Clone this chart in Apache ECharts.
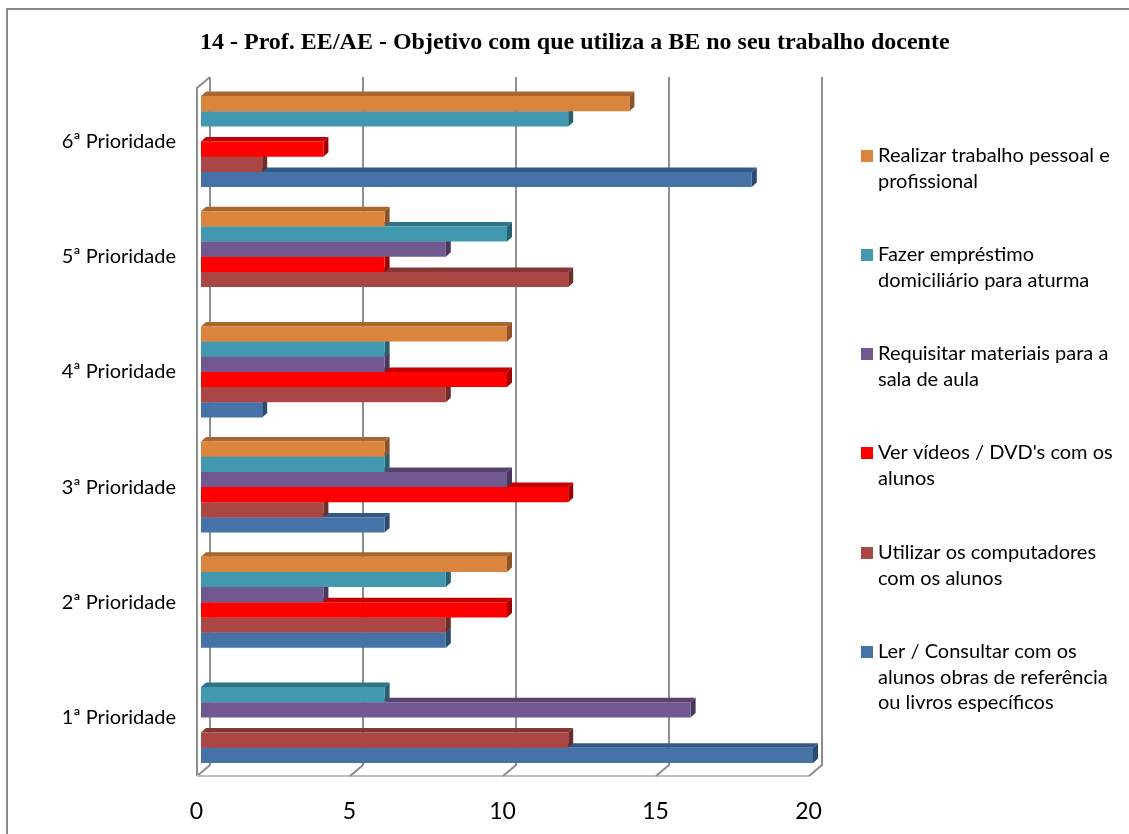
<!DOCTYPE html>
<html>
<head>
<meta charset="utf-8">
<script src="https://cdn.jsdelivr.net/npm/echarts@6/dist/echarts.min.js"></script>
<style>
  html, body { margin: 0; padding: 0; background: #ffffff; }
  #chart { width: 1129px; height: 834px; }
</style>
</head>
<body>
<div id="chart"></div>
<script>
// ---------- data ----------
const titleText = '14 - Prof. EE/AE - Objetivo com que utiliza a BE no seu trabalho docente';
const categories = ['1ª Prioridade', '2ª Prioridade', '3ª Prioridade', '4ª Prioridade', '5ª Prioridade', '6ª Prioridade'];
const xTicks = [0, 5, 10, 15, 20];

// series listed bottom-to-top within each category band
const seriesNames = [
  'Ler / Consultar com os alunos obras de referência ou livros específicos',
  'Utilizar os computadores com os alunos',
  "Ver vídeos / DVD's com os alunos",
  'Requisitar materiais para a sala de aula',
  'Fazer empréstimo domiciliário para aturma',
  'Realizar trabalho pessoal e profissional'
];
const legendLines = [
  ['Ler / Consultar com os', 'alunos obras de referência', 'ou livros específicos'],
  ['Utilizar os computadores', 'com os alunos'],
  ["Ver vídeos / DVD's com os", 'alunos'],
  ['Requisitar materiais para a', 'sala de aula'],
  ['Fazer empréstimo', 'domiciliário para aturma'],
  ['Realizar trabalho pessoal e', 'profissional']
];
const lerConsultar   = [20, 8, 6, 2, 0, 18];
const utilizarComp   = [12, 8, 4, 8, 12, 2];
const verVideos      = [0, 10, 12, 10, 6, 4];
const requisitar     = [16, 4, 10, 6, 8, 0];
const fazerEmprestimo = [6, 8, 6, 6, 10, 12];
const realizarTrabalho = [0, 10, 6, 10, 6, 14];
const seriesValues = [lerConsultar, utilizarComp, verVideos, requisitar, fazerEmprestimo, realizarTrabalho];

// ---------- styles ----------
const frontColors = ['#4572A7', '#AA4643', '#FF0000', '#71588F', '#4198AF', '#DB843D'];
const capColors   = ['#355985', '#853634', '#C40000', '#574370', '#2F7585', '#A9652E'];
const sideColors  = ['#2C4A70', '#6E2C2A', '#A00000', '#47375C', '#27606E', '#8C5426'];
const legendIconY = [652, 553, 453, 354, 255, 156];
const LH = 25.5;
const FONT = 'Lato, "Open Sans", sans-serif';

function renderBar(params, api) {
  const v = api.value(0);
  const c = api.value(1);
  if (!v) return null;
  const s = params.seriesIndex - 1; // series 0 is the frame
  const band = api.size([0, 1])[1];
  const bw = band * 0.79 / 6;
  const p0 = api.coord([0, c]);
  const p1 = api.coord([v, c]);
  const yb = p0[1] + 3 * bw - s * bw;
  const yt = yb - bw;
  const x0 = p0[0], x1 = p1[0];
  const dx = 5, dy = 4.5;
  return {
    type: 'group',
    children: [
      { type: 'polygon', shape: { points: [[x0, yt], [x0 + dx, yt - dy], [x1 + dx, yt - dy], [x1, yt]] },
        style: { fill: capColors[s] } },
      { type: 'polygon', shape: { points: [[x1, yt], [x1 + dx, yt - dy], [x1 + dx, yb - dy], [x1, yb]] },
        style: { fill: sideColors[s] } },
      { type: 'rect', shape: { x: x0, y: yt, width: x1 - x0, height: bw },
        style: { fill: frontColors[s] } }
    ]
  };
}

function renderFrame(params, api) {
  const v = api.value(0);
  const cs = params.coordSys;
  const top = cs.y, bot = cs.y + cs.height;
  const x = api.coord([v, 0])[0];
  const children = [
    { type: 'polyline', shape: { points: [[x + 9, top - 7], [x + 9, bot - 10], [x - 4, bot + 1]] },
      style: { stroke: '#8E8E8E', lineWidth: 2, fill: null } }
  ];
  if (params.dataIndex === 0) {
    const xEnd = api.coord([xTicks[xTicks.length - 1], 0])[0];
    children.push({ type: 'polyline', shape: { points: [[x - 4, bot + 1], [x - 4, top + 4], [x + 9, top - 7]] },
      style: { stroke: '#8E8E8E', lineWidth: 2, fill: null } });
    children.push({ type: 'line', shape: { x1: x - 4, y1: bot + 1, x2: xEnd - 4, y2: bot + 1 },
      style: { stroke: '#BDBDBD', lineWidth: 2 } });
  }
  return { type: 'group', children: children };
}

const series = [{
  type: 'custom',
  name: '__frame',
  renderItem: renderFrame,
  data: xTicks.map(t => [t, 0]),
  encode: { x: 0, y: 1 },
  silent: true,
  z: 1
}];
seriesNames.forEach((n, i) => {
  series.push({
    type: 'custom',
    name: n,
    renderItem: renderBar,
    data: seriesValues[i].map((v, c) => [v, c]),
    encode: { x: 0, y: 1 },
    itemStyle: { color: frontColors[i] },
    z: 2
  });
});

const legends = seriesNames.map((n, i) => {
  const lines = legendLines[i].length;
  const blockH = (2 * lines - 1) * LH;
  return {
    data: [n],
    orient: 'vertical',
    left: 861,
    top: legendIconY[i] - blockH / 2,
    padding: 0,
    itemWidth: 12,
    itemHeight: 12,
    icon: 'rect',
    formatter: () => '\n'.repeat(lines - 1) + legendLines[i].join('\n'),
    textStyle: { fontFamily: FONT, fontSize: 20, color: '#000', lineHeight: LH }
  };
});

const chart = echarts.init(document.getElementById('chart'), null, { renderer: 'canvas' });
chart.setOption({
  backgroundColor: '#ffffff',
  animation: false,
  title: {
    text: titleText,
    left: 200,
    top: 31,
    padding: 0,
    textStyle: { fontFamily: '"Liberation Serif", "Times New Roman", serif', fontWeight: 'bold', fontSize: 24, color: '#000' }
  },
  legend: legends,
  grid: { left: 201, right: 316, top: 84, bottom: 59, containLabel: false },
  xAxis: {
    type: 'value',
    min: 0, max: 20, interval: 5,
    axisLine: { show: false },
    axisTick: { show: false },
    splitLine: { show: false },
    axisLabel: { fontFamily: FONT, fontSize: 23, color: '#000', margin: 25, padding: [0, 9, 0, 0] }
  },
  yAxis: {
    type: 'category',
    data: categories,
    axisLine: { show: false },
    axisTick: { show: false },
    splitLine: { show: false },
    axisLabel: { fontFamily: FONT, fontSize: 20, color: '#000', margin: 25 }
  },
  graphic: [{
    type: 'rect',
    shape: { x: 7, y: 9, width: 1300, height: 1000 },
    style: { fill: null, stroke: '#8A8A8A', lineWidth: 2 },
    silent: true,
    z: 0
  }],
  series: series
});
</script>
</body>
</html>
